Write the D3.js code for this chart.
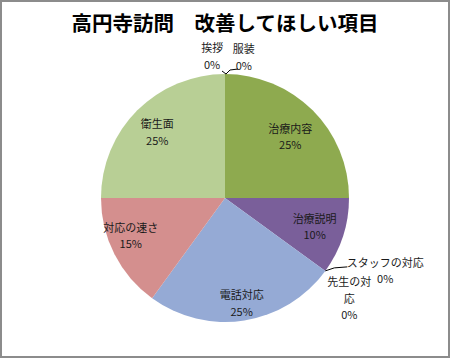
<!DOCTYPE html>
<html><head><meta charset="utf-8">
<script src="https://cdn.jsdelivr.net/npm/d3@7"></script>
<style>body{margin:0;background:#fff}svg{display:block}</style>
</head><body>
<svg id="c" width="450" height="358"></svg>
<script>
const title = "高円寺訪問　改善してほしい項目";
const categories = ["挨拶","服装","治療内容","治療説明","スタッフの対応","先生の対応","電話対応","対応の速さ","衛生面"];
const values = [0,0,25,10,0,0,25,15,25];
const labelLines = [["挨拶","0%"],["服装","0%"],["治療内容","25%"],["治療説明","10%"],["スタッフの対応","0%"],["先生の対","応","0%"],["電話対応","25%"],["対応の速さ","15%"],["衛生面","25%"]];
const colors = ["#b8cf95","#8eaa4f","#8eaa4f","#7a5f9a","#7a5f9a","#95aad5","#95aad5","#d48f8e","#b8cf95"];

// layout: label anchor in polar form (radius factor, angle in degrees clockwise from top); null => slice middle
const labelPolar = [[1.145,-5.2],[1.145,7.6],[0.72,47],[0.76,null],[1.42,114.5],[1.29,129],[0.86,null],[0.82,248],[0.76,314]];

const svg = d3.select("#c");
svg.append("rect").attr("x",1).attr("y",1).attr("width",448).attr("height",356)
  .attr("fill","#fff").attr("stroke","#8c8c8c").attr("stroke-width",2);

svg.append("text").attr("x",225).attr("y",31).attr("text-anchor","middle")
  .attr("font-family","'Noto Sans CJK JP'").attr("font-weight","bold").attr("font-size",20.5)
  .attr("fill","#000").text(title);

const cx = 225, cy = 198, R = 124;
const g = svg.append("g").attr("transform",`translate(${cx},${cy})`);
const pie = d3.pie().sort(null).value(d=>d).startAngle(0).endAngle(2*Math.PI);
const arcs = pie(values);
const arc = d3.arc().innerRadius(0).outerRadius(R);
g.selectAll("path").data(arcs).join("path")
  .attr("d",arc).attr("fill",(d,i)=>colors[i]);

// leader lines for zero slices
const line = d3.line();
const topAngle = arcs[0].startAngle;
const pt = (a,r)=>[Math.sin(a)*r, -Math.cos(a)*r];
const p0 = pt(topAngle,R);
g.append("path").attr("d",line([[p0[0]-3,p0[1]-3],[p0[0]+1,p0[1]]])).attr("stroke","#000").attr("fill","none").attr("stroke-width",1);
g.append("path").attr("d",line([[p0[0]+1,p0[1]],[p0[0]+5,p0[1]-4],[p0[0]+13,p0[1]-5]])).attr("stroke","#000").attr("fill","none").attr("stroke-width",1);
const p1 = pt(arcs[4].startAngle,R);
g.append("path").attr("d",line([[p1[0],p1[1]],[p1[0]+9,p1[1]-3],[p1[0]+22,p1[1]-4]])).attr("stroke","#000").attr("fill","none").attr("stroke-width",1);

const lh = 16.5;
arcs.forEach((d,i)=>{
  const [rf,ang] = labelPolar[i];
  const a = ang===null ? (d.startAngle+d.endAngle)/2 : ang*Math.PI/180;
  const [x,y] = pt(a,R*rf);
  const lines = labelLines[i];
  const t = g.append("text").attr("text-anchor","middle")
    .attr("font-family","'Noto Sans CJK JP'").attr("font-size",11).attr("fill","#1a1a1a");
  lines.forEach((s,k)=>{
    t.append("tspan").attr("x",x).attr("y",y + (k-(lines.length-1)/2)*lh + 4).text(s);
  });
});
</script>
</body></html>
